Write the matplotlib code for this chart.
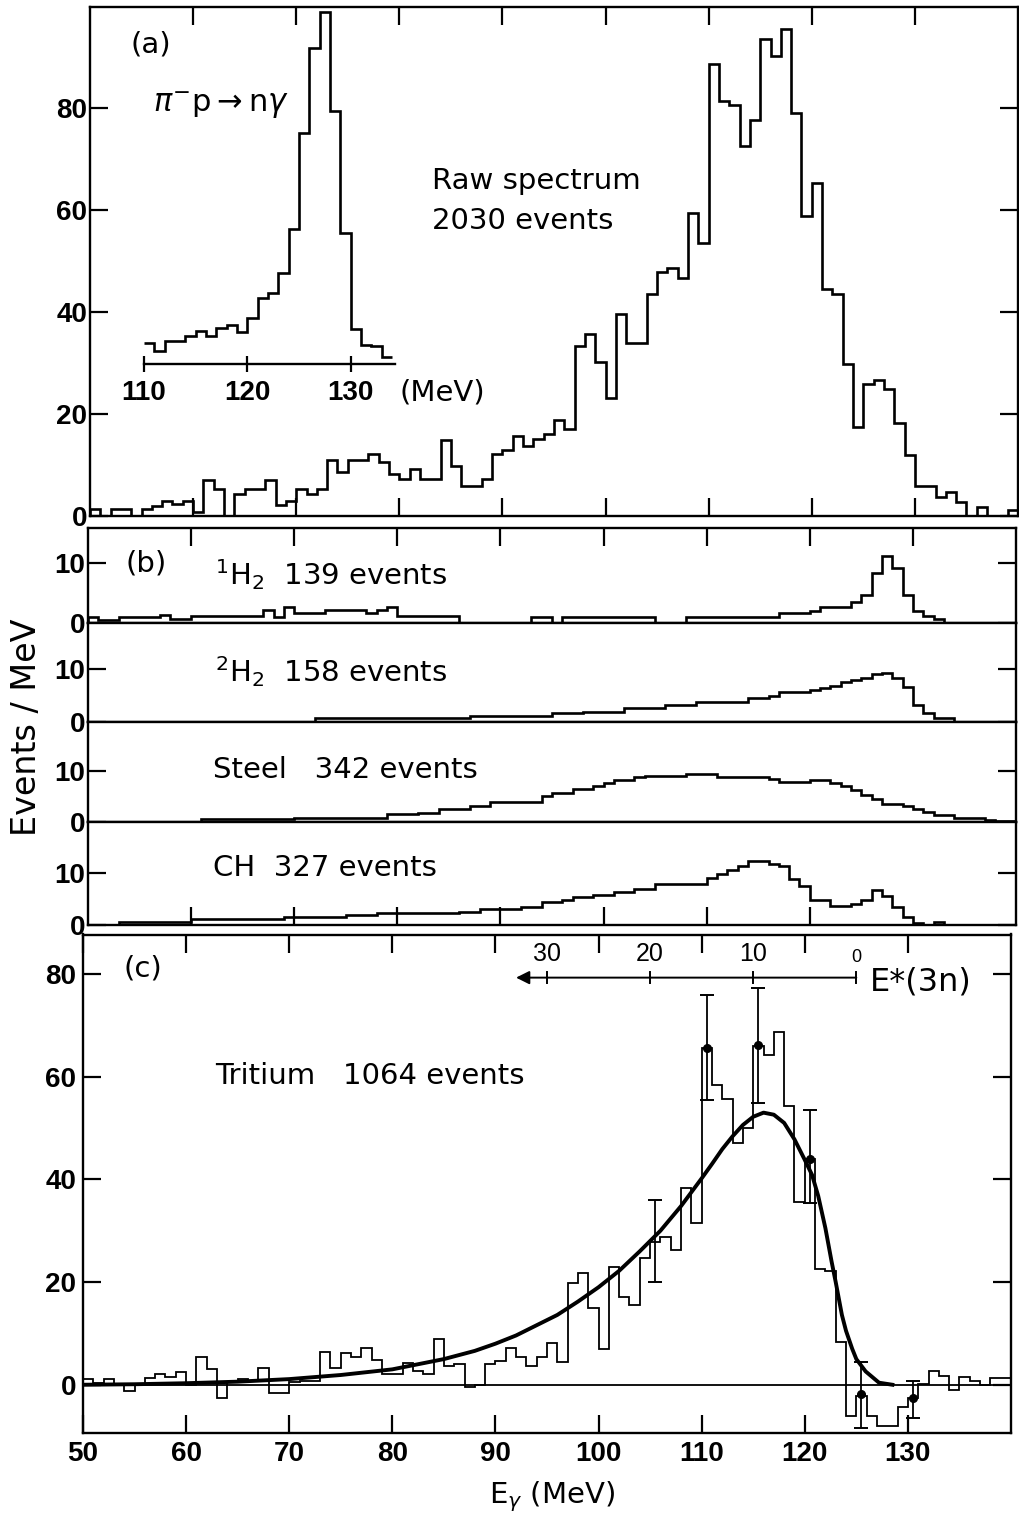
'''
Photon spectra: raw pi- p data, background targets and tritium.
'''
import matplotlib
matplotlib.use('Agg')
import matplotlib.pyplot as plt
import numpy as np

W, H = 1019, 1519

# 1 MeV bins from 50 to 140 MeV
edges = np.arange(50, 141)

raw = [1.3, 0, 1.3, 1.3, 0, 1.3, 2, 3, 2.3, 3,
       0.8, 7, 5.3, 0, 4.3, 5.3, 5.3, 7, 2.2, 3,
       5.3, 4.3, 5.3, 11, 8.6, 11, 11, 12.2, 10.6, 8.3,
       7.3, 9.2, 7.3, 7.3, 14.9, 9.9, 5.9, 5.9, 7.3, 12.2,
       13, 15.7, 13.8, 15, 16, 18.8, 17, 33.4, 35.6, 30.1,
       23.2, 39.7, 34, 34, 43.6, 47.8, 48.6, 46.6, 59.5, 53.5,
       88.7, 81.4, 80.5, 72.6, 77.6, 93.6, 90.2, 95.4, 79.1, 58.8,
       65.3, 44.5, 43.6, 29.8, 17.5, 25.9, 26.7, 24.9, 18.3, 12,
       5.8, 5.8, 3.8, 4.8, 2.8, 0, 1.8, 0, 0, 1.2]

# inset: pi- p -> n gamma line
inset_edges = np.arange(110, 135)
inset_vals = [6.2, 3.9, 6.7, 6.7, 8.2, 9.7, 8.2, 10.7, 11.5, 9.4,
              13.7, 19.5, 20.9, 26.9, 39.9, 68.2, 93.5, 104.2, 74.7, 38.7,
              10.5, 5.7, 5.2, 2.2]

h1 = [1.0, 0.4, 0.4, 0.9, 0.9, 0.9, 0.9, 1.3, 0.7, 0.7,
      1.1, 1.1, 1.1, 1.1, 1.1, 1.1, 1.1, 2.1, 1.0, 2.7,
      1.7, 1.7, 1.7, 2.2, 2.2, 2.2, 2.2, 1.6, 2.2, 2.7,
      1.1, 1.1, 1.1, 1.1, 1.1, 1.1, 0, 0, 0, 0,
      0, 0, 0, 0.9, 0.9, 0, 0.9, 0.9, 0.9, 0.9,
      0.9, 0.9, 0.9, 0.9, 0.9, 0, 0, 0, 1.0, 1.0,
      1.0, 1.0, 1.0, 1.0, 1.0, 1.0, 1.0, 1.6, 1.6, 1.6,
      2.0, 2.7, 2.7, 2.7, 3.5, 4.6, 8.4, 11.2, 9.2, 4.6,
      1.9, 1.2, 0.6, 0, 0, 0, 0, 0, 0, 0]

h2 = [0, 0, 0, 0, 0, 0, 0, 0, 0, 0,
      0, 0, 0, 0, 0, 0, 0, 0, 0, 0,
      0, 0, 0.9, 0.9, 0.9, 0.9, 0.9, 0.9, 0.9, 0.9,
      0.9, 0.9, 0.9, 0.9, 0.9, 0.9, 0.9, 1.2, 1.2, 1.2,
      1.2, 1.2, 1.2, 1.2, 1.2, 1.7, 1.7, 1.7, 2.0, 2.0,
      2.0, 2.0, 2.7, 2.7, 2.7, 2.7, 3.3, 3.3, 3.3, 3.8,
      3.8, 3.8, 3.8, 3.8, 4.6, 4.6, 4.9, 5.7, 5.7, 5.7,
      6.1, 6.5, 6.9, 7.6, 7.9, 8.4, 9.0, 9.2, 8.4, 6.6,
      3.3, 1.7, 0.8, 0.8, 0, 0, 0, 0, 0, 0]

steel = [0, 0, 0, 0, 0, 0, 0, 0, 0, 0,
         0, 0.6, 0.6, 0.6, 0.6, 0.6, 0.6, 0.6, 0.6, 0.6,
         0.9, 0.9, 0.9, 0.9, 0.9, 0.9, 0.9, 0.9, 0.9, 1.6,
         1.6, 1.6, 1.9, 1.9, 2.5, 2.5, 2.5, 3.2, 3.2, 4.0,
         4.0, 4.0, 4.0, 4.0, 5.1, 5.7, 5.7, 6.4, 6.4, 7.0,
         7.7, 8.2, 8.2, 8.8, 9.0, 9.0, 9.0, 9.0, 9.3, 9.3,
         9.3, 8.8, 8.8, 8.8, 8.8, 8.8, 8.4, 7.9, 7.9, 7.9,
         8.2, 8.2, 7.6, 7.0, 6.3, 5.2, 4.6, 3.6, 3.6, 3.2,
         2.6, 2.0, 1.4, 1.4, 0.8, 0.8, 0.8, 0.5, 0.3, 0.3]

ch = [0, 0, 0, 0.6, 0.6, 0.6, 0.6, 0.6, 0.6, 0.6,
      1.1, 1.1, 1.1, 1.1, 1.1, 1.1, 1.1, 1.1, 1.1, 1.6,
      1.5, 1.5, 1.5, 1.5, 1.5, 1.9, 1.9, 1.9, 2.2, 2.2,
      2.2, 2.2, 2.2, 2.2, 2.2, 2.2, 2.5, 2.5, 3.0, 3.0,
      3.0, 3.0, 3.5, 3.5, 4.3, 4.3, 4.8, 5.3, 5.3, 5.8,
      5.8, 6.3, 6.3, 6.8, 6.8, 7.9, 7.9, 7.9, 7.9, 7.9,
      9.0, 9.7, 10.5, 11.3, 12.3, 12.3, 11.7, 11.3, 8.7, 7.4,
      4.8, 4.8, 3.7, 3.7, 4.1, 4.8, 6.6, 5.5, 3.5, 1.6,
      0.3, 0, 0.5, 0, 0, 0, 0, 0, 0, 0]

tritium = [1.1, 0.4, 1.1, 0, -1.2, 0, 1.3, 2.0, 1.5, 2.4,
           0, 5.4, 3.0, -2.6, 0.5, 1.1, 0.7, 3.2, -1.6, -1.6,
           0.5, 0.7, 0.7, 6.3, 3.3, 6.1, 5.5, 7.2, 4.8, 2.0,
           2.0, 4.3, 2.6, 2.0, 9.0, 3.7, 4.1, -0.5, 0, 4.1,
           4.6, 7.2, 5.5, 3.7, 5.5, 8.1, 4.4, 19.9, 21.8, 15.0,
           7.0, 22.9, 17.0, 15.6, 24.7, 27.8, 28.8, 26.2, 38.3, 31.5,
           65.6, 58.3, 55.7, 47.0, 50.1, 65.9, 64.3, 68.8, 54.2, 35.6,
           43.9, 22.5, 22.1, 8.3, -6.0, -2.2, -6.0, -8.1, -8.1, -4.4,
           -2.6, 0.1, 2.7, 1.8, -1.0, 1.5, 0.7, 0, 1.3, 1.3]

# fitted line shape
fit_e = [50, 55, 60, 65, 70, 75, 80, 85, 88, 90, 92, 94, 96, 98, 100,
         102, 104, 106, 108, 110, 111, 112, 113, 114, 115, 116, 117, 118,
         119, 120, 120.7, 121.3, 122, 122.6, 123, 123.6, 124, 124.6, 125,
         125.9, 127.2, 128.5]
fit_y = [0.0, 0.1, 0.3, 0.6, 1.1, 1.9, 3.0, 5.0, 6.6, 8.0, 9.6, 11.6, 13.6,
         16.2, 19.0, 22.2, 26.0, 30.0, 34.8, 40.2, 43.0, 45.9, 48.4, 50.6,
         52.2, 53.0, 52.6, 51.0, 47.8, 43.8, 40.9, 36.8, 30.5, 24.0, 20.0,
         13.6, 10.5, 7.0, 5.0, 2.6, 0.4, 0.0]

err_e = [105.5, 110.5, 115.5, 120.5, 125.5, 130.5]
err_lo = [20.1, 55.5, 54.9, 35.4, -8.5, -6.5]
err_hi = [36.0, 76.0, 77.2, 53.5, 4.4, 0.7]
dot_e = [110.5, 115.5, 120.5, 125.5, 130.5]
dot_y = [65.6, 66.1, 43.9, -1.8, -2.6]

# E*(3n) scale, zero at 125 MeV
estar = [30, 20, 10, 0]
estar_zero = 125.0

tickfont = dict(family=['Liberation Sans', 'DejaVu Sans'],
                fontweight='bold', fontsize=20)
textfont = dict(family='DejaVu Sans', fontsize=21)

fig = plt.figure(figsize=(W / 100, H / 100), dpi=100)


def box(left, top, right, bottom):
    return [left / W, 1 - bottom / H, (right - left) / W, (bottom - top) / H]


def label(x, y, s, **kw):
    opts = dict(textfont)
    opts.update(kw)
    fig.text(x / W, 1 - y / H, s, **opts)


def frame(ax):
    for s in ax.spines.values():
        s.set_linewidth(1.7)
    ax.set_xlim(50, 140)
    ax.tick_params(direction='in', length=13, width=1.6)


# (a) raw spectrum
ax_a = fig.add_axes(box(90, 7.5, 1018, 516))
frame(ax_a)
ax_a.stairs(raw, edges, color='k', lw=1.9, baseline=0)
ax_a.set_ylim(0, 99.7)
ax_a.set_xticks(range(60, 140, 10), [])
ax_a.set_yticks([0, 20, 40, 60, 80], ['0', '20', '40', '60', '80'], **tickfont)
ax_a.tick_params(top=True, right=True, pad=2)

ax_in = fig.add_axes(box(144, 9, 144 + 24.3 * 10.33, 364))
ax_in.patch.set_visible(False)
for side in ['top', 'right', 'left']:
    ax_in.spines[side].set_visible(False)
ax_in.spines['bottom'].set_linewidth(1.7)
ax_in.stairs(inset_vals, inset_edges, color='k', lw=1.9, baseline=None)
ax_in.set_xlim(110, 134.3)
ax_in.set_ylim(0, 105)
ax_in.set_yticks([])
ax_in.set_xticks([110, 120, 130], ['110', '120', '130'], **tickfont)
ax_in.tick_params(axis='x', direction='inout', length=11, width=1.6, pad=6)

label(151, 44, '(a)', ha='center', va='center')
label(221, 106, r'$\pi^{-}$p$\rightarrow$n$\gamma$', ha='center', va='center',
      fontsize=22)
label(432, 189, 'Raw spectrum', ha='left', va='baseline')
label(432, 229, '2030 events', ha='left', va='baseline')
label(400, 392, '(MeV)', ha='left', va='center')

# (b) background targets
b_bounds = [528, 622.7, 722.3, 822.3, 925]
b_tops = [15.9, 18.7, 19.4, 19.6]
b_data = [h1, h2, steel, ch]
for i, vals in enumerate(b_data):
    ax = fig.add_axes(box(88, b_bounds[i], 1016, b_bounds[i + 1]))
    frame(ax)
    ax.stairs(vals, edges, color='k', lw=1.9, baseline=0)
    ax.set_ylim(0, b_tops[i])
    ax.set_yticks([0, 10], ['0', '10'], **tickfont)
    ax.tick_params(right=True, pad=2)
    if i == 0:
        ax.set_xticks(range(60, 140, 10), [])
        ax.tick_params(axis='x', top=True, bottom=False)
    elif i == 3:
        ax.set_xticks(range(60, 130, 10), [])
    else:
        ax.set_xticks([])

label(146, 563, '(b)', ha='center', va='center')
label(215, 585, r'$^1$H$_2$  139 events', ha='left', va='baseline')
label(215, 682, r'$^2$H$_2$  158 events', ha='left', va='baseline')
label(213, 778, 'Steel   342 events', ha='left', va='baseline')
label(213, 876, 'CH  327 events', ha='left', va='baseline')
label(27, 727, 'Events / MeV', ha='center', va='center', rotation=90,
      fontsize=24)

# (c) tritium
ax_c = fig.add_axes(box(83, 934.5, 1011, 1432.5))
frame(ax_c)
ax_c.stairs(tritium, edges, color='k', lw=1.3, baseline=0)
ax_c.axhline(0, color='k', lw=1.3)
ax_c.plot(fit_e, fit_y, color='k', lw=2.8)
err_lo = np.array(err_lo)
err_hi = np.array(err_hi)
err_mid = (err_lo + err_hi) / 2
ax_c.errorbar(err_e, err_mid, yerr=[err_mid - err_lo, err_hi - err_mid],
              fmt='none', ecolor='k', elinewidth=1.3, capsize=5, capthick=1.4)
ax_c.plot(dot_e, dot_y, 'o', color='k', ms=5.5)
ax_c.set_ylim(-9.3, 87.7)
ax_c.set_yticks([0, 20, 40, 60, 80], ['0', '20', '40', '60', '80'], **tickfont)
ax_c.set_xticks(range(50, 140, 10), [str(v) for v in range(50, 140, 10)],
                **tickfont)
ax_c.tick_params(top=True, right=True, pad=5)
ax_c.tick_params(axis='x', pad=6)

# E*(3n) scale with arrow
y_sc = 79.3
ax_c.annotate('', xy=(92, y_sc), xytext=(estar_zero, y_sc),
              arrowprops=dict(arrowstyle='-|>', color='k', lw=1.4,
                              mutation_scale=20, shrinkA=0, shrinkB=0))
for v in estar:
    ax_c.plot([estar_zero - v] * 2, [y_sc - 1.1, y_sc + 1.1], color='k', lw=1.4)
    ax_c.text(estar_zero - v, y_sc + 2.3, str(v), ha='center', va='bottom',
              family=['Liberation Sans', 'DejaVu Sans'],
              fontsize=18 if v else 13)
label(870, 982, 'E*(3n)', ha='left', va='center', fontsize=23)

label(143, 968, '(c)', ha='center', va='center')
label(215, 1084, 'Tritium   1064 events', ha='left', va='baseline')
label(552, 1497, r'E$_\gamma$ (MeV)', ha='center', va='center')

fig.savefig('out.png', dpi=100)
